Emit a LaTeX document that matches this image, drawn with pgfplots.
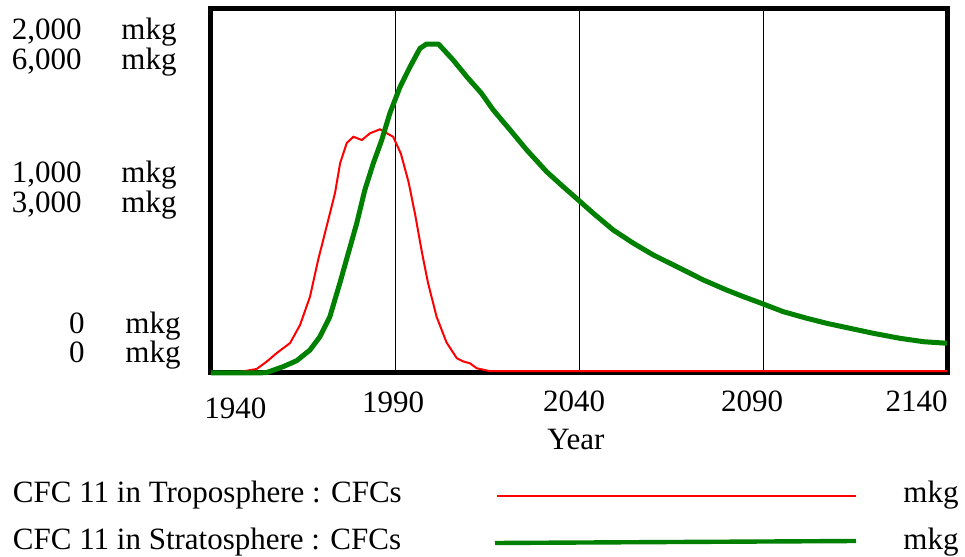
\documentclass[border=0pt]{standalone}
\usepackage{pgfplots}
\pgfplotsset{compat=1.18}
\usepackage{fontspec}
\setmainfont{Liberation Serif}
\newcommand\f{\fontsize{15.5}{18}\selectfont}
\definecolor{vgreen}{RGB}{0,128,0}
\definecolor{vred}{RGB}{255,0,0}
\begin{document}
\begin{tikzpicture}
\useasboundingbox (-105.5pt,-92pt) rectangle (377pt,186.5pt);
\pgfplotsset{
  base/.style={
    at={(0,0)}, anchor=south west,
    scale only axis, width=368pt, height=182pt,
    xmin=1940, xmax=2140, ymin=0,
    clip=false,
    ytick=\empty, yticklabels={},
    major tick length=0pt,
  }
}
% Troposphere axis (0 -- 2000 mkg)
\begin{axis}[base, ymax=2000,
  xtick={1990,2040,2090}, xticklabels={},
  xmajorgrids, grid style={black, line width=0.5pt},
  axis line style={black, line width=2.5pt},
]
\addplot[vred, line width=1pt] coordinates {
(1940,0) (1944,0) (1946,2) (1949,10) (1952.4,22) (1955.1,62) (1957.9,110)
(1961.5,165) (1964.2,264) (1966.9,419) (1969.1,620) (1971.4,804)
(1973.7,989) (1975.1,1154) (1976.9,1264) (1978.7,1298) (1981,1280)
(1983.2,1317) (1985.9,1339) (1988.6,1308) (1989.5,1298) (1991.6,1205)
(1993.7,1048) (1995.5,868) (1997.3,665) (1999,493) (2001.3,309)
(2004,168) (2006.8,81) (2008.5,64) (2010.4,53) (2012.2,26) (2015.8,10)
(2140,10)
};
\end{axis}
% Stratosphere axis (0 -- 6000 mkg)
\begin{axis}[base, ymax=6000, axis lines=none, xtick=\empty]
\addplot[vgreen, line width=2.5pt, line join=round] coordinates {
(1940,0) (1950,0) (1955,5) (1959.6,104) (1963.3,203) (1966.9,379)
(1969.6,598) (1972.3,928) (1975,1478) (1977.3,1973) (1979.6,2467)
(1981.8,3016) (1984.1,3456) (1986.4,3841) (1988.6,4281) (1991.4,4720)
(1994.1,5049) (1996.8,5352) (1998.6,5423) (2001.8,5423) (2005.8,5159)
(2009.5,4884) (2013.5,4610) (2016.7,4335) (2018.6,4198) (2021.3,4005)
(2025.8,3676) (2031.2,3318) (2035.7,3071) (2039.8,2852) (2043.9,2632)
(2049.3,2357) (2054.8,2138) (2060.2,1945) (2066.6,1752) (2073.8,1533)
(2080.1,1368) (2084.7,1258) (2089.6,1148) (2095.5,1011) (2101.9,902)
(2107.3,819) (2113.6,737) (2120,654) (2127.2,572) (2133.6,516) (2140,490)
};
\end{axis}
% y-axis labels
\begin{scope}[every node/.style={font=\f, inner sep=0pt}]
\node[anchor=base east] at (-64.5pt,166.5pt) {2,000};
\node[anchor=base west] at (-45pt,166.5pt) {mkg};
\node[anchor=base east] at (-64.5pt,151.5pt) {6,000};
\node[anchor=base west] at (-45pt,151.5pt) {mkg};
\node[anchor=base east] at (-64.5pt,95pt) {1,000};
\node[anchor=base west] at (-45pt,95pt) {mkg};
\node[anchor=base east] at (-64.5pt,80pt) {3,000};
\node[anchor=base west] at (-45pt,80pt) {mkg};
\node[anchor=base east] at (-63pt,19.5pt) {0};
\node[anchor=base west] at (-43pt,19.5pt) {mkg};
\node[anchor=base east] at (-63pt,5pt) {0};
\node[anchor=base west] at (-43pt,5pt) {mkg};
% x-axis labels
\node[anchor=base] at (12.25pt,-23pt) {1940};
\node[anchor=base] at (91pt,-20pt) {1990};
\node[anchor=base] at (181.5pt,-19.5pt) {2040};
\node[anchor=base] at (270.5pt,-19.5pt) {2090};
\node[anchor=base east] at (368.5pt,-19.5pt) {2140};
\node[anchor=base] at (182.5pt,-38.5pt) {Year};
% legend
\node[anchor=base west] at (-99.2pt,-65pt) {CFC 11 in Troposphere : CFCs};
\node[anchor=base west] at (-99.2pt,-88.5pt) {CFC 11 in Stratosphere : CFCs};
\node[anchor=base west] at (346pt,-65pt) {mkg};
\node[anchor=base west] at (346pt,-88.5pt) {mkg};
\end{scope}
\draw[vred, line width=1pt] (143pt,-61.5pt) -- (322.5pt,-61.5pt);
\draw[vgreen, line width=2.2pt] (142pt,-85pt) -- (322.5pt,-84pt);
\end{tikzpicture}
\end{document}
